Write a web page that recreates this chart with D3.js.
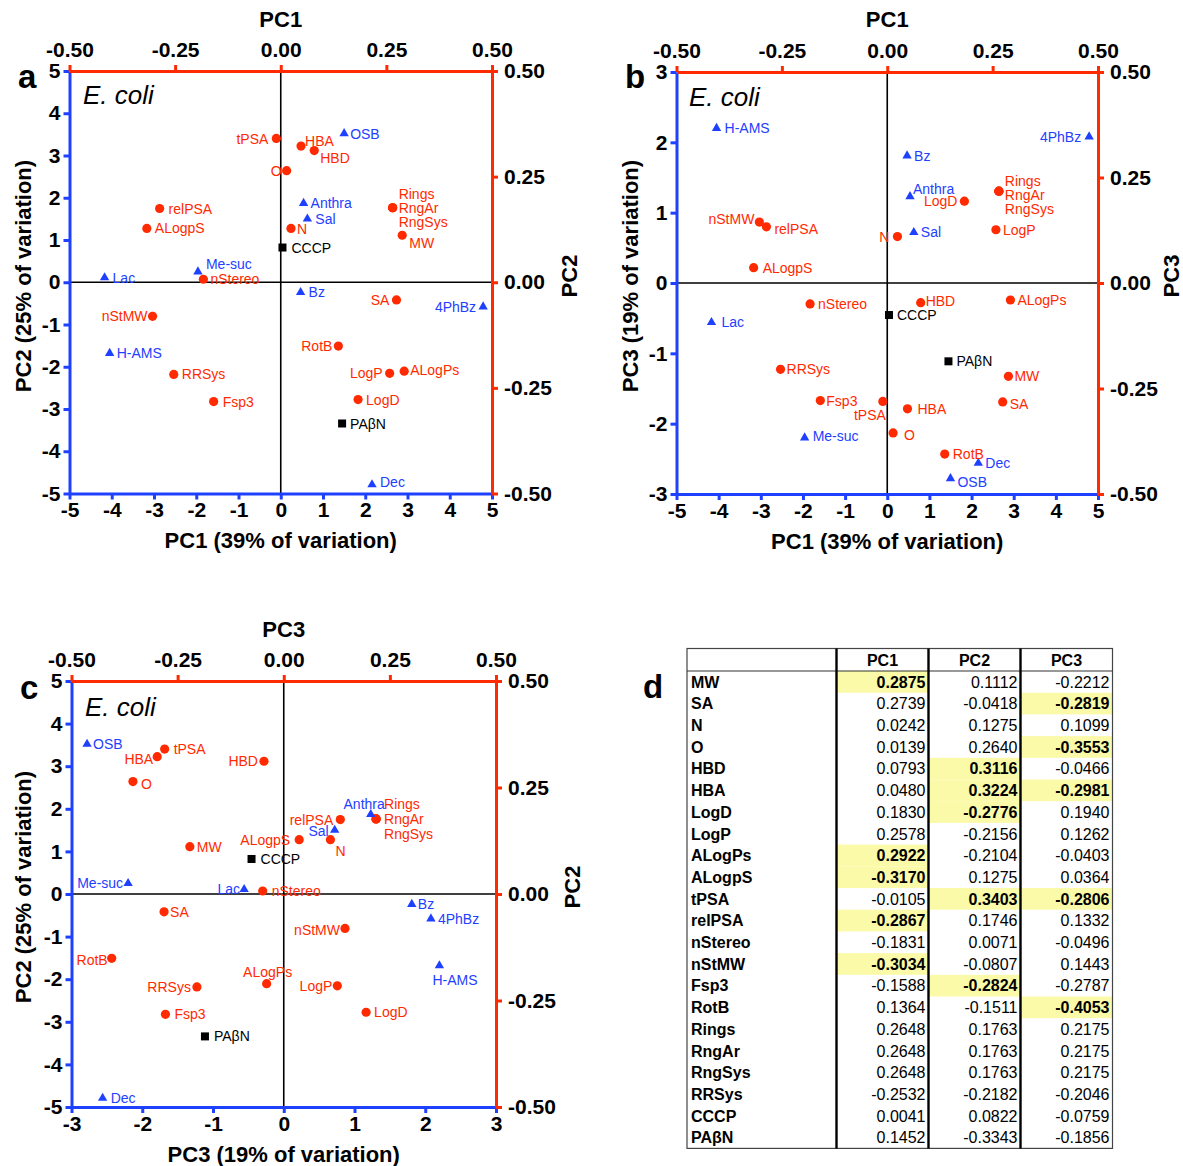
<!DOCTYPE html>
<html>
<head>
<meta charset="utf-8">
<script src="https://cdn.jsdelivr.net/npm/d3@7"></script>
<style>
  body { margin: 0; background: #fff; }
  svg text { font-family: "Liberation Sans", Arial, Helvetica, sans-serif; }
</style>
</head>
<body>
<svg id="fig" width="1183" height="1166"></svg>
<script>
// ---- Descriptor loadings (red points) and reference inhibitors (black squares) ----
const descriptors = ["MW","SA","N","O","HBD","HBA","LogD","LogP","ALogPs","ALogpS","tPSA","relPSA",
                     "nStereo","nStMW","Fsp3","RotB","Rings","RngAr","RngSys","RRSys"];
const inhibitors = ["CCCP","PAβN"];
const loadingRows = descriptors.concat(inhibitors);
const loadPC1 = [0.2875,0.2739,0.0242,0.0139,0.0793,0.0480,0.1830,0.2578,0.2922,-0.3170,-0.0105,-0.2867,
                 -0.1831,-0.3034,-0.1588,0.1364,0.2648,0.2648,0.2648,-0.2532,0.0041,0.1452];
const loadPC2 = [0.1112,-0.0418,0.1275,0.2640,0.3116,0.3224,-0.2776,-0.2156,-0.2104,0.1275,0.3403,0.1746,
                 0.0071,-0.0807,-0.2824,-0.1511,0.1763,0.1763,0.1763,-0.2182,0.0822,-0.3343];
const loadPC3 = [-0.2212,-0.2819,0.1099,-0.3553,-0.0466,-0.2981,0.1940,0.1262,-0.0403,0.0364,-0.2806,0.1332,
                 -0.0496,0.1443,-0.2787,-0.4053,0.2175,0.2175,0.2175,-0.2046,-0.0759,-0.1856];

// ---- Compound scores (blue triangles) ----
const compounds = ["OSB","Anthra","Sal","Me-suc","Lac","Bz","4PhBz","H-AMS","Dec"];
const scorePC1 = [1.50, 0.54, 0.63, -1.96, -4.17, 0.47, 4.79, -4.05, 2.16];
const scorePC2 = [3.52, 1.87, 1.50, 0.25, 0.11, -0.24, -0.58, -1.68, -4.79];
const scorePC3 = [-2.78, 1.23, 0.72, -2.20, -0.56, 1.81, 2.08, 2.20, -2.56];

// ---- Axis ticks and titles ----
const variation = { PC1: 39, PC2: 25, PC3: 19 };
const ticksPC12 = [-5,-4,-3,-2,-1,0,1,2,3,4,5];
const ticksPC3 = [-3,-2,-1,0,1,2,3];
const ticksLoading = [-0.50,-0.25,0.00,0.25,0.50];
const organism = "E. coli";
const tableHeader = ["PC1","PC2","PC3"];

// ---- Styling ----
const RED = "#ff2a00", BLUE = "#1e40ff";
const FONT = '"Liberation Sans", Arial, Helvetica, sans-serif';
const svg = d3.select("#fig");

const loadings = loadingRows.map((name, i) => ({
  name, PC1: loadPC1[i], PC2: loadPC2[i], PC3: loadPC3[i],
  kind: inhibitors.includes(name) ? "inhibitor" : "descriptor"
}));
const scores = compounds.map((name, i) => ({ name, PC1: scorePC1[i], PC2: scorePC2[i], PC3: scorePC3[i] }));

// Label placement per panel: [dx, dy, anchor] relative to the marker
const S = "start", E = "end", M = "middle";
const placeA = {
  tPSA:[-8,0,E], HBA:[4,-5,S], HBD:[6,7,S], O:[-5,0,E], OSB:[6,0,S], relPSA:[9,0,S], ALogpS:[8,0,S],
  Anthra:[7,0,S], Sal:[8,0,S], N:[6,1,S], CCCP:[9,0,S], Rings:[6,-14,S], RngAr:[6,0,S], RngSys:[6,14,S],
  MW:[7,8,S], "Me-suc":[8,-8,S], nStereo:[7,0,S], Lac:[8,0,S], Bz:[8,0,S], SA:[-7,0,E], "4PhBz":[-7,0,E],
  nStMW:[-5,0,E], "H-AMS":[7,0,S], RotB:[-6,0,E], RRSys:[8,0,S], LogP:[-7,0,E], ALogPs:[6,-1,S],
  Fsp3:[9,0,S], LogD:[8,0,S], "PAβN":[8,0,S], Dec:[8,-3,S]
};
const placeB = {
  "H-AMS":[8,0,S], "4PhBz":[-8,0,E], Bz:[7,0,S], Anthra:[3,-8,S], LogD:[-7,0,E], Rings:[6,-10,S],
  RngAr:[6,4,S], RngSys:[6,18,S], nStMW:[-5,-3,E], relPSA:[8,2,S], N:[-8,0,E], Sal:[7,0,S], LogP:[7,0,S],
  ALogpS:[9,0,S], nStereo:[8,0,S], HBD:[5,-2,S], CCCP:[8,0,S], ALogPs:[7,0,S], Lac:[10,0,S], RRSys:[6,0,S],
  "PAβN":[8,0,S], MW:[6,0,S], Fsp3:[6,0,S], tPSA:[3,14,E], HBA:[10,0,S], SA:[7,2,S], "Me-suc":[8,-2,S],
  O:[11,2,S], RotB:[8,0,S], Dec:[7,0,S], OSB:[7,3,S]
};
const placeC = {
  OSB:[6,0,S], HBA:[-4,2,E], tPSA:[9,0,S], HBD:[-6,0,E], O:[8,2,S], Anthra:[14,-10,E], Rings:[8,-15,S],
  RngAr:[8,0,S], RngSys:[8,15,S], relPSA:[-7,0,E], Sal:[-6,1,E], ALogpS:[-9,0,E], N:[5,11,S], MW:[7,0,S],
  CCCP:[9,0,S], "Me-suc":[-5,0,E], Lac:[-4,0,E], nStereo:[9,0,S], SA:[6,0,S], Bz:[6,0,S], "4PhBz":[7,0,S],
  nStMW:[-5,2,E], RotB:[-4,2,E], ALogPs:[1,-12,M], LogP:[-5,0,E], "H-AMS":[-7,14,S], RRSys:[-6,0,E],
  Fsp3:[9,0,S], LogD:[8,0,S], "PAβN":[9,0,S], Dec:[8,0,S]
};

const panels = [
  { letter:"a", letterXY:[18,88], xPC:"PC1", yPC:"PC2", xTicks:ticksPC12, yTicks:ticksPC12,
    left:69.5, right:492, top:71, bottom:493.5, place:placeA,
    leftTitleX:31, rightTitleX:577, topTitleY:27, bottomTitleY:548, titleCY:276, orgXY:[83,104] },
  { letter:"b", letterXY:[625,88], xPC:"PC1", yPC:"PC3", xTicks:ticksPC12, yTicks:ticksPC3,
    left:676.5, right:1098, top:72, bottom:494, place:placeB,
    leftTitleX:638, rightTitleX:1179, topTitleY:27, bottomTitleY:549, titleCY:276, orgXY:[689,106] },
  { letter:"c", letterXY:[20,699], xPC:"PC3", yPC:"PC2", xTicks:ticksPC3, yTicks:ticksPC12,
    left:71.5, right:496, top:681, bottom:1107, place:placeC,
    leftTitleX:31, rightTitleX:580, topTitleY:637, bottomTitleY:1162, titleCY:887, orgXY:[85,716] }
];

function styleAxis(g, color) {
  g.attr("font-family", FONT).attr("font-size", 21).attr("font-weight", "bold");
  g.select(".domain").attr("stroke", color).attr("stroke-width", 3);
  g.selectAll(".tick line").attr("stroke", color).attr("stroke-width", 3);
  g.selectAll(".tick text").attr("fill", "#000");
}

function drawBiplot(p) {
  const g = svg.append("g");
  const ext = d => [d[0], d[d.length - 1]];
  const sx = d3.scaleLinear().domain(ext(p.xTicks)).range([p.left, p.right]);
  const sy = d3.scaleLinear().domain(ext(p.yTicks)).range([p.bottom, p.top]);
  const lx = d3.scaleLinear().domain(ext(ticksLoading)).range([p.left, p.right]);
  const ly = d3.scaleLinear().domain(ext(ticksLoading)).range([p.bottom, p.top]);

  // origin cross-hair
  g.append("line").attr("x1", sx(0)).attr("x2", sx(0)).attr("y1", p.top).attr("y2", p.bottom)
    .attr("stroke", "#000").attr("stroke-width", 1.6);
  g.append("line").attr("x1", p.left).attr("x2", p.right).attr("y1", sy(0)).attr("y2", sy(0))
    .attr("stroke", "#000").attr("stroke-width", 1.6);

  // descriptor loadings
  g.selectAll("circle.load").data(loadings.filter(d => d.kind === "descriptor")).join("circle")
    .attr("class", "load").attr("cx", d => lx(d[p.xPC])).attr("cy", d => ly(d[p.yPC]))
    .attr("r", 4.6).attr("fill", RED);
  // inhibitor loadings
  g.selectAll("rect.inh").data(loadings.filter(d => d.kind === "inhibitor")).join("rect")
    .attr("class", "inh").attr("x", d => lx(d[p.xPC]) - 4).attr("y", d => ly(d[p.yPC]) - 4)
    .attr("width", 8).attr("height", 8).attr("fill", "#000");
  // compound scores
  const tri = d3.symbol().type(d3.symbolTriangle).size(38);
  g.selectAll("path.score").data(scores).join("path")
    .attr("class", "score").attr("d", tri)
    .attr("transform", d => `translate(${sx(d[p.xPC])},${sy(d[p.yPC])})`).attr("fill", BLUE);

  // point labels
  const labelItems = loadings.map(d => ({ name: d.name, x: lx(d[p.xPC]), y: ly(d[p.yPC]),
                                           color: d.kind === "inhibitor" ? "#000" : RED }))
    .concat(scores.map(d => ({ name: d.name, x: sx(d[p.xPC]), y: sy(d[p.yPC]), color: BLUE })));
  g.selectAll("text.lbl").data(labelItems).join("text")
    .attr("class", "lbl")
    .attr("x", d => d.x + (p.place[d.name] || [7,0,S])[0])
    .attr("y", d => d.y + (p.place[d.name] || [7,0,S])[1])
    .attr("dy", "0.36em")
    .attr("text-anchor", d => (p.place[d.name] || [7,0,S])[2])
    .attr("font-size", 14).attr("fill", d => d.color)
    .text(d => d.name);

  // axes: scores on bottom/left (blue), loadings on top/right (red)
  const fmtInt = d => String(d);
  const fmtLoad = d => d.toFixed(2);
  styleAxis(g.append("g").attr("transform", `translate(0,${p.bottom})`)
    .call(d3.axisBottom(sx).tickValues(p.xTicks).tickFormat(fmtInt).tickSize(6).tickSizeOuter(0).tickPadding(3)), BLUE);
  styleAxis(g.append("g").attr("transform", `translate(${p.left},0)`)
    .call(d3.axisLeft(sy).tickValues(p.yTicks).tickFormat(fmtInt).tickSize(6).tickSizeOuter(0).tickPadding(3)), BLUE);
  styleAxis(g.append("g").attr("transform", `translate(0,${p.top})`)
    .call(d3.axisTop(lx).tickValues(ticksLoading).tickFormat(fmtLoad).tickSize(6).tickSizeOuter(0).tickPadding(8)), RED);
  styleAxis(g.append("g").attr("transform", `translate(${p.right},0)`)
    .call(d3.axisRight(ly).tickValues(ticksLoading).tickFormat(fmtLoad).tickSize(6).tickSizeOuter(0).tickPadding(6)), RED);

  // axis titles
  const cx = (p.left + p.right) / 2;
  const title = (sel) => sel.attr("font-size", 22).attr("font-weight", "bold").attr("fill", "#000")
    .attr("text-anchor", "middle");
  title(g.append("text").attr("x", cx).attr("y", p.topTitleY).text(p.xPC));
  title(g.append("text").attr("x", cx).attr("y", p.bottomTitleY)
    .text(`${p.xPC} (${variation[p.xPC]}% of variation)`));
  title(g.append("text").attr("transform", `translate(${p.leftTitleX},${p.titleCY}) rotate(-90)`)
    .text(`${p.yPC} (${variation[p.yPC]}% of variation)`));
  title(g.append("text").attr("transform", `translate(${p.rightTitleX},${p.titleCY}) rotate(-90)`)
    .text(p.yPC));

  // organism and panel letter
  g.append("text").attr("x", p.orgXY[0]).attr("y", p.orgXY[1]).attr("font-size", 26)
    .attr("font-style", "italic").attr("fill", "#000").text(organism);
  g.append("text").attr("x", p.letterXY[0]).attr("y", p.letterXY[1]).attr("font-size", 33)
    .attr("font-weight", "bold").attr("fill", "#000").text(p.letter);
}

panels.forEach(drawBiplot);

// ---- Panel d: loading table ----
(function drawTable() {
  const cols = [687, 836.5, 928.5, 1020.5, 1112.5];
  const top = 648.5, headH = 22.5, rowH = 21.7;
  const rows = loadings;
  const bottom = top + headH + rows.length * rowH;
  const g = svg.append("g");
  const rowY = i => top + headH + i * rowH;

  // highlight the five strongest descriptor loadings in each component
  const pcs = ["PC1", "PC2", "PC3"];
  const strongest = {};
  pcs.forEach(pc => {
    strongest[pc] = new Set(loadings.filter(d => d.kind === "descriptor")
      .slice().sort((a, b) => Math.abs(b[pc]) - Math.abs(a[pc])).slice(0, 5).map(d => d.name));
  });
  pcs.forEach((pc, j) => {
    rows.forEach((d, i) => {
      if (strongest[pc].has(d.name)) {
        g.append("rect").attr("x", cols[j + 1]).attr("y", rowY(i))
          .attr("width", cols[j + 2] - cols[j + 1]).attr("height", rowH).attr("fill", "#fbfaa8");
      }
    });
  });

  // frame
  g.append("rect").attr("x", cols[0]).attr("y", top).attr("width", cols[4] - cols[0])
    .attr("height", bottom - top).attr("fill", "none").attr("stroke", "#444").attr("stroke-width", 1.2);
  g.append("line").attr("x1", cols[0]).attr("x2", cols[4]).attr("y1", top + headH).attr("y2", top + headH)
    .attr("stroke", "#333").attr("stroke-width", 1.2);
  [1, 2, 3].forEach(k => g.append("line").attr("x1", cols[k]).attr("x2", cols[k])
    .attr("y1", top).attr("y2", bottom).attr("stroke", "#000").attr("stroke-width", 2.4));

  // header
  tableHeader.forEach((h, j) => g.append("text").attr("x", (cols[j + 1] + cols[j + 2]) / 2)
    .attr("y", top + headH / 2).attr("dy", "0.36em").attr("text-anchor", "middle")
    .attr("font-size", 16).attr("font-weight", "bold").text(h));

  // rows
  rows.forEach((d, i) => {
    const cy = rowY(i) + rowH / 2;
    g.append("text").attr("x", cols[0] + 4).attr("y", cy).attr("dy", "0.36em")
      .attr("font-size", 16).attr("font-weight", "bold").text(d.name);
    pcs.forEach((pc, j) => {
      g.append("text").attr("x", cols[j + 2] - 3).attr("y", cy).attr("dy", "0.36em")
        .attr("text-anchor", "end").attr("font-size", 16)
        .attr("font-weight", strongest[pc].has(d.name) ? "bold" : "normal")
        .text(d[pc].toFixed(4));
    });
  });

  svg.append("text").attr("x", 643).attr("y", 698).attr("font-size", 33).attr("font-weight", "bold")
    .attr("fill", "#000").text("d");
})();
</script>
</body>
</html>
